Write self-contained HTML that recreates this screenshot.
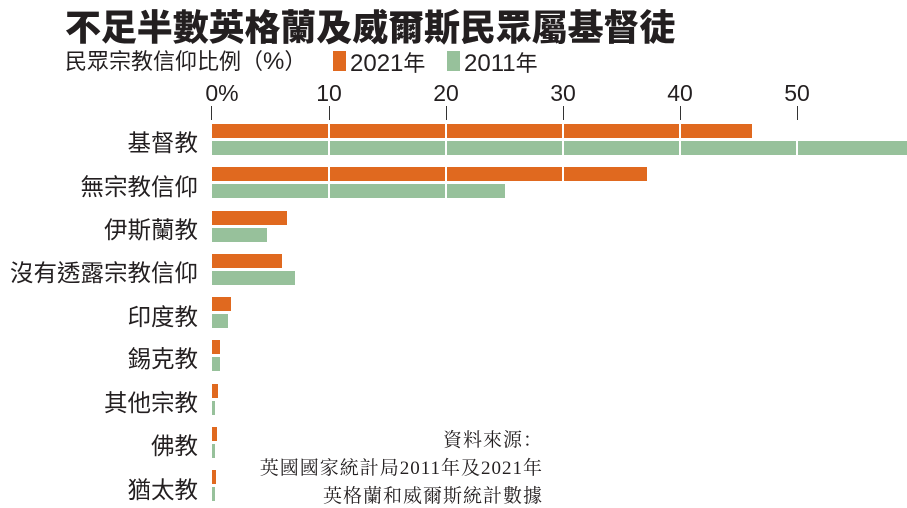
<!DOCTYPE html>
<html><head><meta charset="utf-8"><style>
body{margin:0;width:907px;height:507px;background:#fff;overflow:hidden;position:relative;font-family:"Liberation Sans","Noto Sans CJK TC",sans-serif;color:#231f20}
.a{position:absolute;white-space:nowrap}
.t{left:65px;top:-1px;font-size:36px;font-weight:900;letter-spacing:-0.1px}
.s{left:65px;top:44px;font-size:22px}
.num{font-family:"Liberation Sans Narrow","Liberation Sans",sans-serif;font-size:24px}
.bar{position:absolute;height:14px}
.o{background:#e0691f}.g{background:#97c19b}
.lab{position:absolute;right:709px;font-size:23.5px;text-align:right}
.tick{position:absolute;top:106px;width:1px;height:14px;background:#333}
.tl{position:absolute;top:80px;font-size:23px;transform:translateX(-50%);font-family:"Liberation Sans Narrow","Liberation Sans",sans-serif}
.grid{position:absolute;top:123px;width:2px;height:35px;background:#fff}
.src{font-family:"Liberation Serif","Noto Serif CJK SC",serif;font-size:19px;text-align:right;right:364px;letter-spacing:1px}
</style></head><body>
<div class="a t">不足半數英格蘭及威爾斯民眾屬基督徒</div>
<div class="a s">民眾宗教信仰比例（<span class="num">%</span>）</div>
<div class="a" style="left:333px;top:51px;width:13px;height:20px;background:#e0691f"></div>
<div class="a s num" style="left:350px;top:46px">2021<span style="font-family:'Noto Sans CJK TC';font-size:22px">年</span></div>
<div class="a" style="left:447px;top:51px;width:13px;height:20px;background:#97c19b"></div>
<div class="a s num" style="left:464px;top:46px">2011<span style="font-family:'Noto Sans CJK TC';font-size:22px">年</span></div>
<div class="tl" style="left:222px">0%</div><div class="tl" style="left:329px">10</div><div class="tl" style="left:446px">20</div><div class="tl" style="left:563px">30</div><div class="tl" style="left:680px">40</div><div class="tl" style="left:797px">50</div>
<div class="tick" style="left:211px"></div><div class="tick" style="left:329px"></div><div class="tick" style="left:446px"></div><div class="tick" style="left:563px"></div><div class="tick" style="left:680px"></div><div class="tick" style="left:797px"></div>

<div class="bar o" style="left:212px;top:124px;width:540px"></div><div class="bar g" style="left:212px;top:141px;width:695px"></div>
<div class="bar o" style="left:212px;top:167px;width:435px"></div><div class="bar g" style="left:212px;top:184px;width:293px"></div>
<div class="bar o" style="left:212px;top:211px;width:75px"></div><div class="bar g" style="left:212px;top:228px;width:55px"></div>
<div class="bar o" style="left:212px;top:254px;width:70px"></div><div class="bar g" style="left:212px;top:271px;width:83px"></div>
<div class="bar o" style="left:212px;top:297px;width:19px"></div><div class="bar g" style="left:212px;top:314px;width:16px"></div>
<div class="bar o" style="left:212px;top:340px;width:8px"></div><div class="bar g" style="left:212px;top:357px;width:8px"></div>
<div class="bar o" style="left:212px;top:384px;width:6px"></div><div class="bar g" style="left:212px;top:401px;width:3px"></div>
<div class="bar o" style="left:212px;top:427px;width:5px"></div><div class="bar g" style="left:212px;top:444px;width:3px"></div>
<div class="bar o" style="left:212px;top:470px;width:4px"></div><div class="bar g" style="left:212px;top:487px;width:3px"></div>

<div class="grid" style="left:328px"></div><div class="grid" style="left:445px"></div><div class="grid" style="left:562px"></div><div class="grid" style="left:679px"></div><div class="grid" style="left:796px;height:18px;top:141px"></div>
<div class="grid" style="left:328px;top:167px"></div><div class="grid" style="left:445px;top:167px"></div><div class="grid" style="left:562px;top:167px;height:14px"></div>

<div class="lab" style="top:124px">基督教</div>
<div class="lab" style="top:168px">無宗教信仰</div>
<div class="lab" style="top:211px">伊斯蘭教</div>
<div class="lab" style="top:254px">沒有透露宗教信仰</div>
<div class="lab" style="top:298px">印度教</div>
<div class="lab" style="top:340px">錫克教</div>
<div class="lab" style="top:384px">其他宗教</div>
<div class="lab" style="top:427px">佛教</div>
<div class="lab" style="top:471px">猶太教</div>

<div class="a src" style="top:425px">資料來源：</div>
<div class="a src" style="top:453px">英國國家統計局2011年及2021年</div>
<div class="a src" style="top:481px">英格蘭和威爾斯統計數據</div>
</body></html>
